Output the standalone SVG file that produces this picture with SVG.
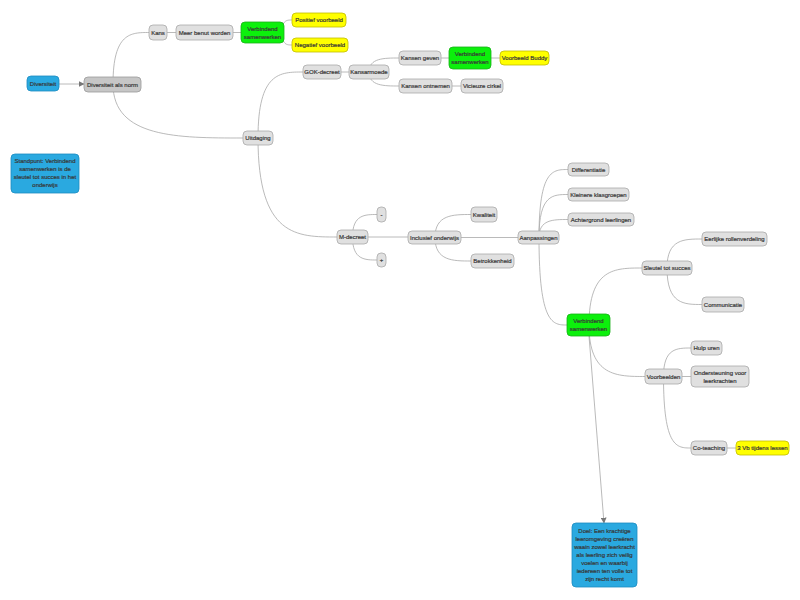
<svg xmlns="http://www.w3.org/2000/svg" width="800" height="600" viewBox="0 0 800 600">
<defs>
<style>
.n rect{fill:#e0e0e0;stroke:#a9a9a9;stroke-width:0.8}
.d rect{fill:#c6c6c6;stroke:#9a9a9a;stroke-width:0.8}
.g rect{fill:#0cf00c;stroke:#19b019;stroke-width:0.8}
.y rect{fill:#ffff00;stroke:#c2bc00;stroke-width:0.8}
.b rect{fill:#2aa9e0;stroke:#1d8cc0;stroke-width:0.8}
text{font-family:"Liberation Sans",Arial,sans-serif;font-size:6px;fill:#383838;stroke:#383838;stroke-width:0.2;text-anchor:middle}
#connectors path,#connectors line{fill:none;stroke:#a8a8a8;stroke-width:0.8}
</style>
<marker id="arr" viewBox="0 0 10 10" refX="9" refY="5" markerWidth="6" markerHeight="6" markerUnits="userSpaceOnUse" orient="auto">
<path d="M0,0 L10,5 L0,10 z" fill="#777"/>
</marker>
</defs>
<rect width="800" height="600" fill="#fff"/>
<g id="connectors">
<line x1="59" y1="84" x2="84" y2="84" marker-end="url(#arr)"/>
<path d="M113,84 C113,32.5 131,32.5 149,32.5"/>
<path d="M113,84 C113,138 178,138 243,138"/>
<line x1="167" y1="32.5" x2="176" y2="32.5"/>
<line x1="233" y1="32.5" x2="241" y2="32.5"/>
<path d="M282,32 C282,20 287,20 292,20"/>
<path d="M282,32 C282,45 287,45 292,45"/>
<path d="M258,138 C258,72 280,72 303,72"/>
<path d="M258,138 C258,237 297,237 337,237"/>
<line x1="341" y1="72" x2="349" y2="72"/>
<path d="M369,72 C369,58 384,58 399,58"/>
<path d="M369,72 C369,86 384,86 399,86"/>
<line x1="441" y1="58" x2="449" y2="58"/>
<line x1="491" y1="58" x2="500" y2="58"/>
<line x1="452" y1="86" x2="461" y2="86"/>
<path d="M352.5,237 C352.5,214.5 365,214.5 377,214.5"/>
<path d="M352.5,237 C352.5,260 365,260 377,260"/>
<line x1="368" y1="237" x2="408" y2="237"/>
<path d="M435,237.5 C435,214.5 453,214.5 471,214.5"/>
<path d="M435,237.5 C435,261 453,261 471,261"/>
<line x1="461" y1="237.5" x2="518" y2="237.5"/>
<path d="M539,237.5 C539,169.5 553,169.5 568,169.5"/>
<path d="M539,237.5 C539,194.5 553,194.5 568,194.5"/>
<path d="M539,237.5 C539,219.5 553,219.5 568,219.5"/>
<path d="M539,237.5 C539,325 553,325 567,325"/>
<path d="M589,325 C589,268 615,268 642,268"/>
<path d="M589,325 C589,376.5 617,376.5 645,376.5"/>
<path d="M667,268 C667,239 684,239 702,239"/>
<path d="M667,268 C667,304.5 684,304.5 702,304.5"/>
<line x1="682" y1="376.5" x2="691" y2="376.5"/>
<path d="M663.5,376.5 C663.5,348 677,348 691,348"/>
<path d="M663.5,376.5 C663.5,448 677,448 691,448"/>
<line x1="727" y1="448" x2="736" y2="448"/>
<line x1="589" y1="336" x2="604" y2="523" marker-end="url(#arr)"/>
</g>
<g id="diversiteit" class="b"><rect x="27" y="76" width="32" height="15" rx="4"/><text x="43" y="86">Diversiteit</text></g>
<g id="norm" class="d"><rect x="84" y="77" width="57" height="15" rx="4"/><text x="112.5" y="86.5">Diversiteit als norm</text></g>
<g id="kans" class="n"><rect x="149" y="25" width="18" height="15" rx="4"/><text x="158" y="34.5">Kans</text></g>
<g id="meerbenut" class="n"><rect x="176" y="25" width="57" height="15" rx="4"/><text x="204.5" y="34.5">Meer benut worden</text></g>
<g id="vs1" class="g"><rect x="241" y="22" width="43" height="21" rx="4"/><text x="262.5" y="31">Verbindend</text><text x="262.5" y="38.5">samenwerken</text></g>
<g id="positief" class="y"><rect x="292" y="13" width="54" height="14" rx="4"/><text x="319" y="22">Positief voorbeeld</text></g>
<g id="negatief" class="y"><rect x="292" y="38" width="56" height="14" rx="4"/><text x="320" y="47">Negatief voorbeeld</text></g>
<g id="uitdaging" class="n"><rect x="243" y="131" width="30" height="14" rx="4"/><text x="258" y="140">Uitdaging</text></g>
<g id="gok" class="n"><rect x="303" y="65" width="38" height="14" rx="4"/><text x="322" y="74">GOK-decreet</text></g>
<g id="kansarmoede" class="n"><rect x="349" y="65" width="40" height="14" rx="4"/><text x="369" y="74">Kansarmoede</text></g>
<g id="kansengeven" class="n"><rect x="399" y="51" width="42" height="14" rx="4"/><text x="420" y="60">Kansen geven</text></g>
<g id="vs2" class="g"><rect x="449" y="47" width="42" height="22" rx="4"/><text x="470" y="56">Verbindend</text><text x="470" y="63.5">samenwerken</text></g>
<g id="buddy" class="y"><rect x="500" y="51" width="49" height="14" rx="4"/><text x="524.5" y="60">Voorbeeld Buddy</text></g>
<g id="kansenontnemen" class="n"><rect x="399" y="79" width="53" height="14" rx="4"/><text x="425.5" y="88">Kansen ontnemen</text></g>
<g id="vicieuze" class="n"><rect x="461" y="79" width="42" height="14" rx="4"/><text x="482" y="88">Vicieuze cirkel</text></g>
<g id="standpunt" class="b"><rect x="11" y="154" width="68" height="39" rx="4"/><text x="45" y="163">Standpunt: Verbindend</text><text x="45" y="171">samenwerken is de</text><text x="45" y="179">sleutel tot succes in het</text><text x="45" y="187">onderwijs</text></g>
<g id="mdecreet" class="n"><rect x="337" y="230" width="31" height="14" rx="4"/><text x="352.5" y="239">M-decreet</text></g>
<g id="min" class="n"><rect x="377" y="207" width="9" height="15" rx="4"/><text x="381.5" y="216.5">-</text></g>
<g id="plus" class="n"><rect x="377" y="253" width="9" height="14" rx="4"/><text x="381.5" y="262">+</text></g>
<g id="inclusief" class="n"><rect x="408" y="231" width="53" height="13" rx="4"/><text x="434.5" y="239.5">Inclusief onderwijs</text></g>
<g id="kwaliteit" class="n"><rect x="471" y="207" width="26" height="15" rx="4"/><text x="484" y="216.5">Kwaliteit</text></g>
<g id="betrokkenheid" class="n"><rect x="471" y="254" width="43" height="14" rx="4"/><text x="492.5" y="263">Betrokkenheid</text></g>
<g id="aanpassingen" class="n"><rect x="518" y="231" width="41" height="13" rx="4"/><text x="538.5" y="239.5">Aanpassingen</text></g>
<g id="differentiatie" class="n"><rect x="568" y="163" width="41" height="13" rx="4"/><text x="588.5" y="171.5">Differentiatie</text></g>
<g id="kleinere" class="n"><rect x="568" y="188" width="61" height="13" rx="4"/><text x="598.5" y="196.5">Kleinere klasgroepen</text></g>
<g id="achtergrond" class="n"><rect x="568" y="213" width="66" height="13" rx="4"/><text x="601" y="221.5">Achtergrond leerlingen</text></g>
<g id="vs3" class="g"><rect x="567" y="314" width="43" height="22" rx="4"/><text x="588.5" y="323">Verbindend</text><text x="588.5" y="330.5">samenwerken</text></g>
<g id="sleutel" class="n"><rect x="642" y="261" width="50" height="14" rx="4"/><text x="667" y="270">Sleutel tot succes</text></g>
<g id="eerlijke" class="n"><rect x="702" y="232" width="65" height="14" rx="4"/><text x="734.5" y="241">Eerlijke rollenverdeling</text></g>
<g id="communicatie" class="n"><rect x="702" y="297" width="42" height="15" rx="4"/><text x="723" y="306.5">Communicatie</text></g>
<g id="voorbeelden" class="n"><rect x="645" y="369" width="37" height="15" rx="4"/><text x="663.5" y="378.5">Voorbeelden</text></g>
<g id="hulpuren" class="n"><rect x="691" y="341" width="31" height="14" rx="4"/><text x="706.5" y="350">Hulp uren</text></g>
<g id="ondersteuning" class="n"><rect x="691" y="366" width="58" height="21" rx="4"/><text x="720" y="375">Ondersteuning voor</text><text x="720" y="382.5">leerkrachten</text></g>
<g id="coteaching" class="n"><rect x="691" y="441" width="36" height="14" rx="4"/><text x="709" y="450">Co-teaching</text></g>
<g id="vb3" class="y"><rect x="736" y="441" width="53" height="14" rx="4"/><text x="762.5" y="450">3 Vb tijdens lessen</text></g>
<g id="doel" class="b"><rect x="572" y="523" width="65" height="64" rx="4"/><text x="604.5" y="533">Doel: Een krachtige</text><text x="604.5" y="541">leeromgeving creëren</text><text x="604.5" y="549">waain zowel leerkracht</text><text x="604.5" y="557">als leerling zich veilig</text><text x="604.5" y="565">voelen en waarbij</text><text x="604.5" y="573">iedereen ten volle tot</text><text x="604.5" y="581">zijn recht komt</text></g>
</svg>
